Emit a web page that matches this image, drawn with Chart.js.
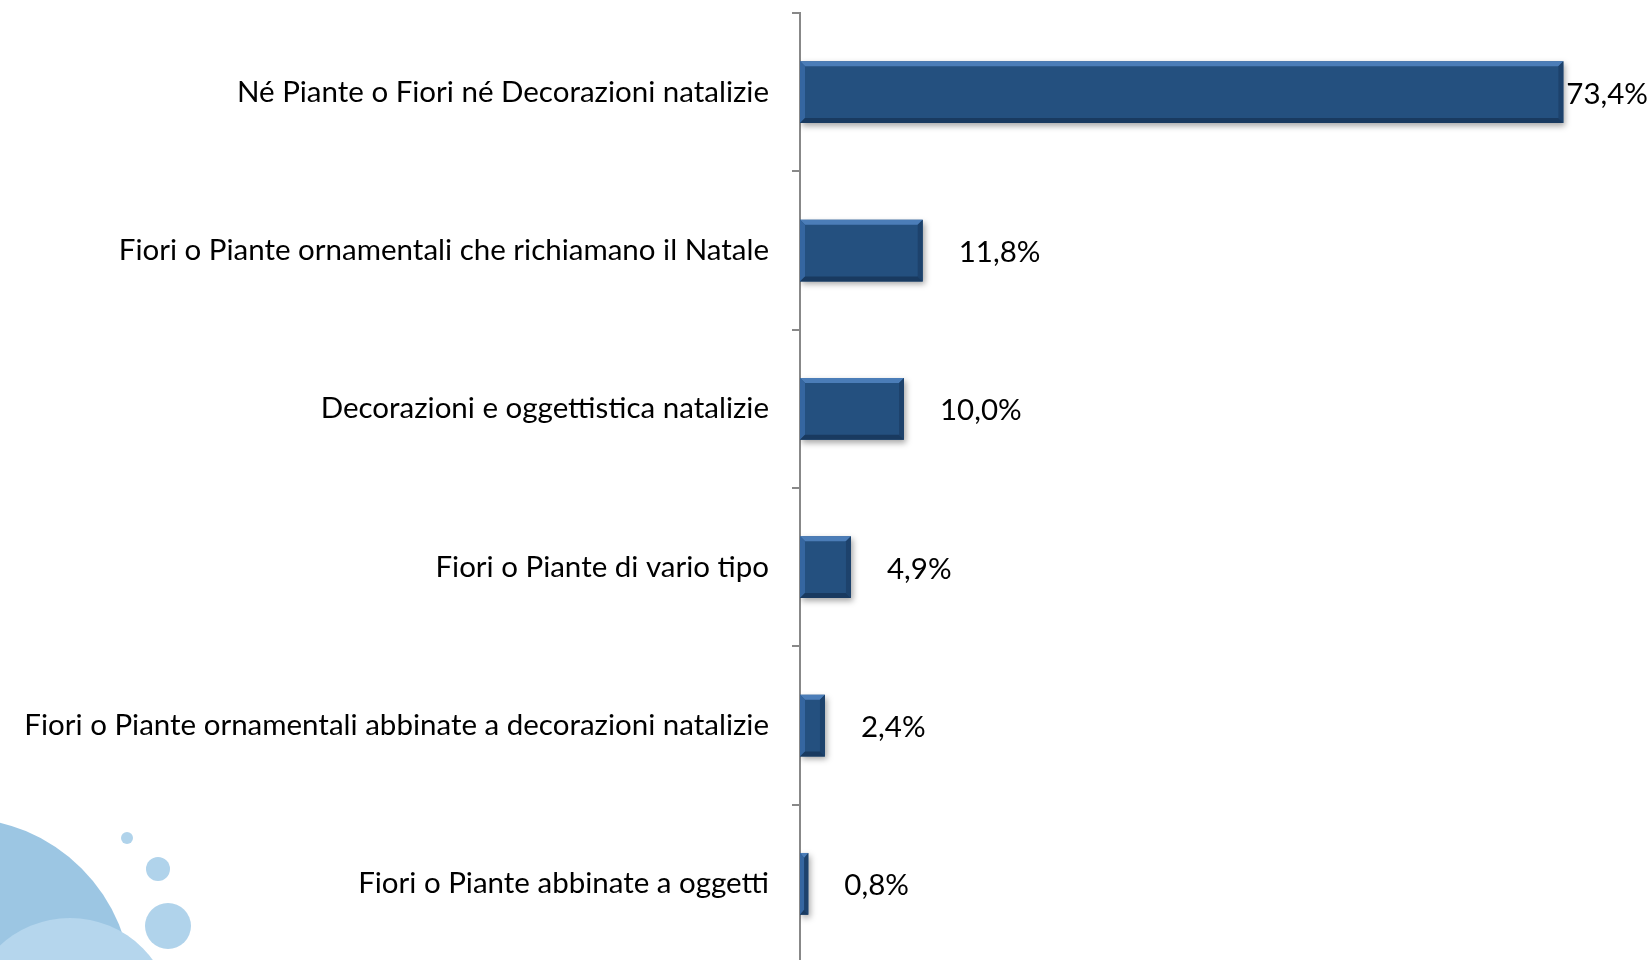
<!DOCTYPE html>
<html>
<head>
<meta charset="utf-8">
<script src="https://cdn.jsdelivr.net/npm/chart.js@4.4.1/dist/chart.umd.min.js"></script>
<style>
    html, body { margin: 0; padding: 0; background: #fff; overflow: hidden; }
    #wrap { position: relative; width: 1652px; height: 963px; }
    .dot { position: absolute; border-radius: 50%; }
    canvas { position: absolute; left: 0; top: 0; }
</style>
</head>
<body>
<div id="wrap">
    <div class="dot" style="left:-212px; top:818px; width:344px; height:344px; background:#9cc6e3;"></div>
    <div class="dot" style="left:-33px; top:918px; width:206px; height:206px; background:#b5d6ed;"></div>
    <div class="dot" style="left:121px; top:832px; width:12px; height:12px; background:#b0d3eb;"></div>
    <div class="dot" style="left:146px; top:857px; width:24px; height:24px; background:#b0d3eb;"></div>
    <div class="dot" style="left:145px; top:903px; width:46px; height:46px; background:#b0d3eb;"></div>
    <canvas id="chart" width="1652" height="963"></canvas>
</div>
<script>
const categories = [
    'Né Piante o Fiori né Decorazioni natalizie',
    'Fiori o Piante ornamentali che richiamano il Natale',
    'Decorazioni e oggettistica natalizie',
    'Fiori o Piante di vario tipo',
    'Fiori o Piante ornamentali abbinate a decorazioni natalizie',
    'Fiori o Piante abbinate a oggetti'
];
const values = [73.4, 11.8, 10.0, 4.9, 2.4, 0.8];

const FONT = "Lato, 'Open Sans', sans-serif";
const FONT_SIZE = 29.5;

// bevelled bars + value labels
const bevelPlugin = {
    id: 'bevel',
    beforeDatasetsDraw(chart) {
        const ctx = chart.ctx;
        ctx.save();
        ctx.shadowColor = 'rgba(0,0,0,0.35)';
        ctx.shadowBlur = 6;
        ctx.shadowOffsetX = 2;
        ctx.shadowOffsetY = 3;
    },
    afterDatasetsDraw(chart) {
        const ctx = chart.ctx;
        ctx.restore();
        const meta = chart.getDatasetMeta(0);
        const b = 5;
        meta.data.forEach((bar, i) => {
            const p = bar.getProps(['x', 'y', 'base', 'height'], true);
            const x0 = p.base, x1 = p.x, y0 = p.y - p.height / 2, y1 = p.y + p.height / 2;
            const bw = Math.min(b, (x1 - x0) / 2);
            ctx.save();
            // top edge
            ctx.fillStyle = '#4b7db8';
            ctx.beginPath();
            ctx.moveTo(x0, y0); ctx.lineTo(x1, y0); ctx.lineTo(x1 - bw, y0 + b); ctx.lineTo(x0 + bw, y0 + b);
            ctx.closePath(); ctx.fill();
            // left edge
            ctx.fillStyle = '#3566a0';
            ctx.beginPath();
            ctx.moveTo(x0, y0); ctx.lineTo(x0 + bw, y0 + b); ctx.lineTo(x0 + bw, y1 - b); ctx.lineTo(x0, y1);
            ctx.closePath(); ctx.fill();
            // right edge
            ctx.fillStyle = '#1d426c';
            ctx.beginPath();
            ctx.moveTo(x1, y0); ctx.lineTo(x1 - bw, y0 + b); ctx.lineTo(x1 - bw, y1 - b); ctx.lineTo(x1, y1);
            ctx.closePath(); ctx.fill();
            // bottom edge
            ctx.fillStyle = '#193a60';
            ctx.beginPath();
            ctx.moveTo(x0, y1); ctx.lineTo(x0 + bw, y1 - b); ctx.lineTo(x1 - bw, y1 - b); ctx.lineTo(x1, y1);
            ctx.closePath(); ctx.fill();
            ctx.restore();

            // value label
            const txt = values[i].toFixed(1).replace('.', ',') + '%';
            ctx.save();
            ctx.font = FONT_SIZE + 'px ' + FONT;
            ctx.fillStyle = '#000';
            ctx.textBaseline = 'middle';
            const w = ctx.measureText(txt).width;
            const lx = Math.min(x1 + 36, chart.width - 4 - w);
            ctx.fillText(txt, lx, p.y + 2);
            ctx.restore();
        });
    }
};

new Chart(document.getElementById('chart'), {
    type: 'bar',
    data: {
        labels: categories,
        datasets: [{
            data: values,
            backgroundColor: '#24507f',
            borderWidth: 0,
            categoryPercentage: 1,
            barPercentage: 0.39
        }]
    },
    options: {
        indexAxis: 'y',
        responsive: false,
        animation: false,
        layout: { padding: { left: 0, right: 20, top: 13, bottom: 0 } },
        plugins: {
            legend: { display: false },
            tooltip: { enabled: false }
        },
        scales: {
            x: {
                display: false,
                min: 0,
                max: 80
            },
            y: {
                afterFit: s => {
                    s.width = 800;
                    s.paddingTop = 0;
                    s.paddingBottom = 0;
                },
                grid: {
                    offset: true,
                    drawOnChartArea: false,
                    drawTicks: true,
                    tickLength: 8,
                    color: '#888888',
                    lineWidth: 2
                },
                border: { display: true, color: '#888888', width: 2 },
                ticks: {
                    color: '#000',
                    padding: 23,
                    font: { family: FONT, size: FONT_SIZE }
                }
            }
        }
    },
    plugins: [bevelPlugin]
});
</script>
</body>
</html>
